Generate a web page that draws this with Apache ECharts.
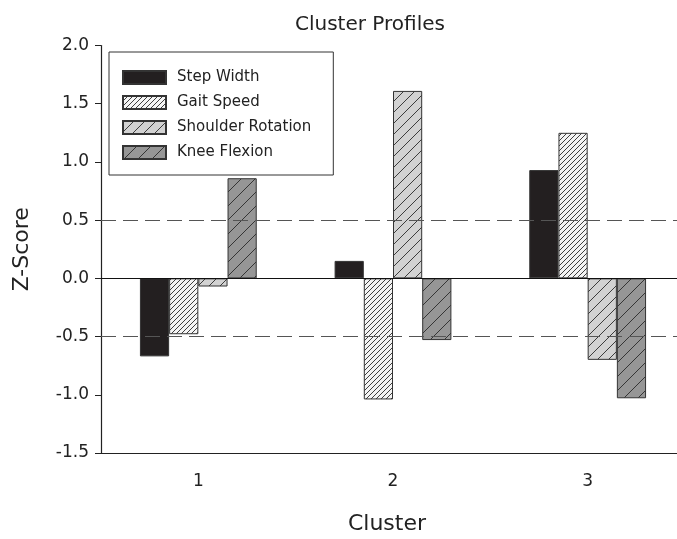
<!DOCTYPE html>
<html>
<head>
<meta charset="utf-8">
<script src="https://cdn.jsdelivr.net/npm/echarts@6/dist/echarts.min.js"></script>
<style>html,body{margin:0;padding:0;background:#fff}#c{width:677px;height:539px}</style>
</head>
<body>
<div id="c"></div>
<script>
const categories = ['1', '2', '3'];
const stepWidth = [-0.67, 0.15, 0.93];
const gaitSpeed = [-0.48, -1.04, 1.25];
const shoulderRotation = [-0.07, 1.61, -0.70];
const kneeFlexion = [0.86, -0.53, -1.03];
const seriesNames = ['Step Width', 'Gait Speed', 'Shoulder Rotation', 'Knee Flexion'];
const referenceLines = [0.5, -0.5];

function hatch(bg, spacing) {
  const c = document.createElement('canvas');
  c.width = spacing; c.height = spacing;
  const g = c.getContext('2d');
  g.fillStyle = bg; g.fillRect(0, 0, spacing, spacing);
  g.strokeStyle = '#2a2a2a'; g.lineWidth = 0.9;
  g.beginPath();
  g.moveTo(-1, spacing + 1); g.lineTo(spacing + 1, -1);
  g.moveTo(-1, 1); g.lineTo(1, -1);
  g.moveTo(spacing - 1, spacing + 1); g.lineTo(spacing + 1, spacing - 1);
  g.stroke();
  return { image: c, repeat: 'repeat' };
}

const fills = [
  '#231f20',
  hatch('#f4f4f4', 5),
  hatch('#d2d2d2', 11),
  hatch('#969696', 14)
];
const dataArrays = [stepWidth, gaitSpeed, shoulderRotation, kneeFlexion];
const font = 'DejaVu Sans';

const series = dataArrays.map((d, i) => ({
  name: seriesNames[i],
  type: 'bar',
  data: d,
  barGap: '0%',
  barCategoryGap: '40%',
  itemStyle: { color: fills[i], borderColor: '#333', borderWidth: 1 },
  emphasis: { disabled: true }
}));
series[0].markLine = {
  silent: true,
  symbol: 'none',
  label: { show: false },
  lineStyle: { color: '#555', type: [15, 7], width: 1.2 },
  data: referenceLines.map(v => ({ yAxis: v })).concat([{ yAxis: 0, lineStyle: { color: '#111', type: 'solid', width: 1.2 } }])
};

const chart = echarts.init(document.getElementById('c'), null, { renderer: 'canvas' });
chart.setOption({
  animation: false,
  backgroundColor: '#fff',
  title: {
    text: 'Cluster Profiles',
    left: 290, top: 10,
    textStyle: { fontFamily: font, fontSize: 20, fontWeight: 'normal', color: '#222' }
  },
  legend: {
    orient: 'vertical',
    left: 109, top: 52,
    padding: [18, 22, 15, 13],
    itemWidth: 43, itemHeight: 13, itemGap: 10,
    icon: 'rect',
    borderColor: '#333', borderWidth: 1,
    textStyle: { fontFamily: font, fontSize: 15, color: '#222', lineHeight: 13, padding: [0, 0, 0, 6] },
    data: seriesNames
  },
  grid: { left: 101, right: -8, top: 45.5, bottom: 86, outerBoundsMode: 'none', containLabel: false },
  xAxis: {
    type: 'category',
    data: categories,
    name: 'Cluster',
    nameLocation: 'middle',
    nameGap: 60,
    nameTextStyle: { fontFamily: font, fontSize: 22, color: '#222', padding: [0, 12, 0, 0] },
    axisLine: { onZero: false, lineStyle: { color: '#222', width: 1.2 } },
    axisTick: { alignWithLabel: true, length: 5, lineStyle: { color: '#222' } },
    axisLabel: { fontFamily: font, fontSize: 17, color: '#222', margin: 20 }
  },
  yAxis: {
    type: 'value',
    min: -1.5, max: 2.0, interval: 0.5,
    name: 'Z-Score',
    nameLocation: 'middle',
    nameGap: 68,
    nameTextStyle: { fontFamily: font, fontSize: 22, color: '#222' },
    splitLine: { show: false },
    axisLine: { show: true, lineStyle: { color: '#222', width: 1.2 } },
    axisTick: { show: true, length: 6, lineStyle: { color: '#222' } },
    axisLabel: { fontFamily: font, fontSize: 17, color: '#222', margin: 12, formatter: v => v.toFixed(1) }
  },
  series: series
});
</script>
</body>
</html>
